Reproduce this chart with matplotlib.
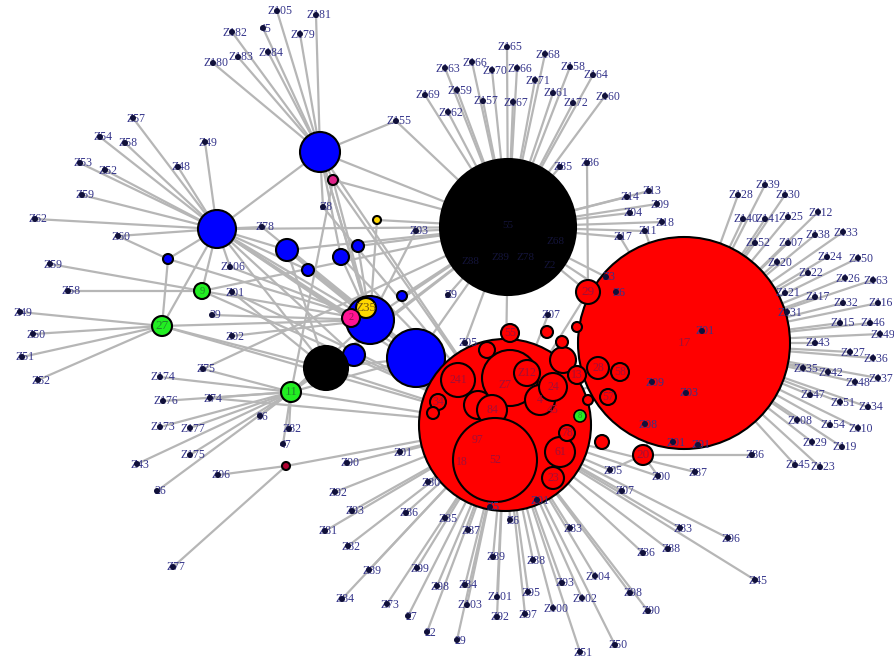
import matplotlib
matplotlib.use("Agg")
import matplotlib.pyplot as plt
from matplotlib.patches import Circle

# layout is in pixel units of an 895 x 660 canvas (y grows downwards)

# hub nodes: name, x, y, radius, fill, label   (listed in drawing order)
hubs = [
    ("B5", 416, 358, 29, "#0000ff", ""),
    ("R17", 684, 343, 106, "#ff0000", "17"),
    ("R", 505, 425, 86, "#ff0000", ""),
    ("K", 508, 227, 68, "#000000", ""),
    ("B1", 320, 152, 20, "#0000ff", ""),
    ("B2", 217, 229, 19, "#0000ff", ""),
    ("B3", 287, 250, 11, "#0000ff", ""),
    ("B4", 370, 320, 24, "#0000ff", ""),
    ("B6", 354, 355, 11, "#0000ff", ""),
    ("b7", 341, 257, 8, "#0000ff", ""),
    ("b8", 358, 246, 6, "#0000ff", ""),
    ("b9", 308, 270, 6, "#0000ff", ""),
    ("b10", 168, 259, 5, "#0000ff", ""),
    ("b11", 402, 296, 5, "#0000ff", ""),
    ("K2", 326, 368, 22, "#000000", ""),
    ("G27", 162, 326, 10, "#22ee22", "27"),
    ("G9", 202, 291, 8, "#22ee22", "9"),
    ("G11", 291, 392, 10, "#22ee22", "11"),
    ("Y35", 366, 308, 10, "#ffd700", "Z35"),
    ("M2", 351, 318, 9, "#ff1493", "2"),
    ("m1", 333, 180, 5, "#dd2288", ""),
    ("y1", 377, 220, 4, "#ffd700", ""),
    ("dr", 286, 466, 4, "#b00030", ""),
    ("R29", 588, 292, 12, "#ff0000", "29"),
    ("R20", 643, 455, 10, "#ff0000", "20"),
]

# circles packed inside the large red component
inner_red = [
    (478, 405, 14, ""), (458, 380, 17, "241"), (510, 378, 28, ""),
    (540, 400, 15, "4"), (527, 373, 13, "Z12"), (553, 387, 14, "24"),
    (563, 360, 13, ""), (492, 410, 15, "84"), (495, 460, 42, "52"),
    (560, 452, 15, "61"), (553, 478, 11, "23"), (567, 433, 8, "78"),
    (577, 375, 9, "13"), (598, 368, 11, "28"), (620, 372, 9, "58"),
    (608, 397, 8, "57"), (510, 333, 9, "55"), (438, 402, 8, "34"),
    (433, 413, 6, ""), (487, 350, 8, ""), (547, 332, 6, ""),
    (562, 342, 6, ""), (577, 327, 5, ""), (588, 400, 5, ""),
    (602, 442, 7, ""),
]
inner_text = [("18", 462, 462), ("97", 478, 440), ("45", 553, 410), ("Z7", 505, 385)]
green_small = (580, 416, 6, "8")

# faint names printed over the black hub
black_text = [("55", 508, 225), ("Z68", 555, 242), ("Z88", 470, 262), ("Z89", 500, 258),
              ("Z78", 525, 258), ("Z2", 550, 265)]

# leaves grouped by the hub they hang from
leaves_K = [
    ("Z165", 507, 47), ("Z168", 545, 54), ("Z163", 445, 68), ("Z166", 472, 62),
    ("Z170", 492, 70), ("Z166", 517, 68), ("Z158", 570, 67), ("Z164", 593, 75),
    ("Z171", 535, 80), ("Z169", 425, 95), ("Z159", 457, 90), ("Z161", 553, 93),
    ("Z172", 573, 103), ("Z160", 605, 96), ("Z157", 483, 101), ("Z167", 513, 102),
    ("Z162", 448, 112), ("Z85", 560, 167), ("Z14", 627, 197), ("Z13", 649, 191),
    ("Z09", 657, 204), ("Z04", 630, 213), ("Z18", 662, 222), ("Z17", 620, 237),
    ("Z11", 645, 231), ("Z03", 416, 231), ("Z9", 448, 295),
]
leaves_B1 = [
    ("Z105", 277, 11), ("Z181", 316, 15), ("Z182", 232, 32), ("45", 263, 28),
    ("Z179", 300, 34), ("Z183", 238, 57), ("Z184", 268, 52), ("Z180", 213, 63),
    ("Z155", 396, 121), ("Z8", 323, 207),
]
leaves_B2 = [
    ("Z57", 133, 118), ("Z54", 100, 137), ("Z58", 125, 143), ("Z49", 205, 142),
    ("Z53", 80, 163), ("Z52", 105, 170), ("Z48", 178, 167), ("Z59", 82, 195),
    ("Z62", 35, 219), ("Z60", 118, 236), ("Z78", 262, 227), ("Z106", 230, 267),
]
leaves_G9 = [("Z59", 50, 264), ("Z58", 68, 291)]
leaves_G27 = [("Z49", 20, 312), ("Z50", 33, 334), ("Z51", 22, 357), ("Z52", 38, 380)]
leaves_G11 = [
    ("Z75", 203, 369), ("Z174", 160, 377), ("Z176", 163, 401), ("Z74", 210, 398),
    ("Z173", 160, 427), ("Z177", 190, 428), ("Z175", 190, 455), ("Z43", 137, 464),
    ("26", 157, 491), ("96", 260, 416), ("Z82", 289, 429), ("47", 283, 444),
]
leaves_dr = [("Z06", 218, 475), ("Z77", 173, 567)]
leaves_K2 = [("Z01", 232, 292)]
leaves_B4 = [("39", 212, 315), ("Z02", 232, 336)]
leaves_R = [
    ("Z90", 347, 463), ("Z01", 400, 452), ("Z92", 335, 492), ("Z93", 352, 511),
    ("Z81", 325, 531), ("Z82", 348, 546), ("Z89", 369, 570), ("Z84", 342, 599),
    ("Z99", 417, 568), ("Z98", 437, 586), ("Z73", 387, 604), ("27", 408, 616),
    ("22", 427, 632), ("29", 457, 640), ("Z84", 465, 585), ("Z103", 467, 605),
    ("Z89", 493, 557), ("Z101", 497, 597), ("Z92", 497, 617), ("Z88", 533, 560),
    ("Z95", 528, 592), ("Z97", 525, 614), ("Z100", 553, 608), ("Z93", 562, 583),
    ("Z102", 582, 598), ("Z83", 570, 528), ("Z51", 580, 652), ("Z87", 468, 530),
    ("Z85", 445, 518), ("Z86", 406, 513), ("Z80", 428, 482),
    ("Z05", 610, 470), ("Z00", 658, 476), ("Z87", 695, 472), ("Z07", 622, 491),
    ("Z83", 680, 528), ("Z96", 728, 538), ("Z36", 643, 553), ("Z88", 668, 549),
    ("Z45", 755, 580), ("Z104", 595, 576), ("Z98", 630, 593), ("Z90", 648, 611),
    ("Z50", 615, 645), ("Z05", 465, 343), ("Z07", 548, 315),
    ("Z5", 490, 507), ("Z6", 510, 520), ("Z01", 537, 500),
]
leaves_R17 = [
    ("Z128", 738, 195), ("Z139", 765, 185), ("Z130", 785, 195), ("Z140", 743, 219),
    ("Z141", 765, 219), ("Z125", 788, 217), ("Z112", 818, 212), ("Z152", 755, 243),
    ("Z107", 788, 243), ("Z138", 815, 235), ("Z133", 843, 232), ("Z120", 777, 262),
    ("Z124", 827, 257), ("Z150", 858, 258), ("Z122", 808, 273), ("Z126", 845, 278),
    ("Z163", 873, 280), ("Z121", 785, 293), ("Z117", 815, 297), ("Z132", 843, 303),
    ("Z116", 878, 303), ("Z131", 787, 312), ("Z115", 840, 323), ("Z146", 870, 323),
    ("Z149", 880, 334), ("Z143", 815, 343), ("Z127", 850, 352), ("Z136", 873, 358),
    ("Z135", 803, 368), ("Z142", 828, 372), ("Z148", 855, 382), ("Z137", 878, 378),
    ("Z147", 810, 395), ("Z151", 840, 402), ("Z134", 868, 407), ("Z108", 797, 420),
    ("Z154", 830, 425), ("Z110", 858, 428), ("Z129", 812, 442), ("Z119", 842, 447),
    ("Z145", 795, 465), ("Z123", 820, 467),
    ("Z01", 702, 331), ("Z09", 652, 382), ("Z03", 686, 393), ("Z08", 645, 424),
    ("Z01", 673, 442), ("Z91", 698, 445), ("Z3", 606, 277), ("Z6", 616, 292),
]
leaves_R29 = [("Z86", 587, 163)]
leaves_R20 = [("Z86", 752, 455)]

leaf_groups = {
    "K": leaves_K, "B1": leaves_B1, "B2": leaves_B2, "G9": leaves_G9,
    "G27": leaves_G27, "G11": leaves_G11, "dr": leaves_dr, "K2": leaves_K2,
    "B4": leaves_B4, "R": leaves_R, "R17": leaves_R17, "R29": leaves_R29,
    "R20": leaves_R20,
}

# links between hubs, plus a few second links of leaves
hub_links = [
    ("B1", "B2"), ("B1", "K"), ("B1", "m1"), ("B1", "b7"), ("B1", "B4"),
    ("B1", "Y35"), ("B1", "R"), ("B2", "B3"), ("B2", "B4"), ("B2", "G27"),
    ("B2", "G9"), ("B2", "b10"), ("B2", "R"), ("B2", "K"), ("B2", "K2"),
    ("B2", "B5"), ("G27", "B4"), ("G27", "K2"), ("G27", "R"), ("G27", "b10"),
    ("G9", "B4"), ("G9", "R"), ("G11", "B4"), ("G11", "B5"), ("G11", "R"),
    ("G11", "K2"), ("G11", "K"), ("K2", "R"), ("K2", "K"), ("K2", "B3"),
    ("B4", "K"), ("B4", "R"), ("B5", "R"), ("B5", "K"), ("B3", "B4"),
    ("B3", "R"), ("b7", "B4"), ("b8", "B4"), ("b8", "K"), ("b9", "B2"),
    ("b9", "B4"), ("b11", "K"), ("m1", "B4"), ("m1", "R"), ("m1", "K"),
    ("y1", "B4"), ("y1", "K"), ("K", "R"), ("K", "R17"), ("K", "R29"),
    ("R", "R17"), ("R17", "R20"), ("B6", "R"), ("B6", "B2"), ("M2", "B2"),
    ("dr", "R"), ("K2", "B5"), ("b10", "B4"), ("G9", "K"), ("B3", "K"),
    ("b7", "R"), ("m1", "G11"), ("R29", "R"),
]
extra_links = [
    ("Z155", 396, 121, "K"), ("Z78", 262, 227, "R"), ("Z106", 230, 267, "B4"),
    ("Z8", 323, 207, "R"), ("Z03", 416, 231, "B4"), ("Z01", 232, 292, "R"),
    ("Z05", 465, 343, "K"), ("Z00", 658, 476, "R20"), ("Z05", 610, 470, "R20"),
    ("Z17", 620, 237, "R17"), ("Z11", 645, 231, "R17"), ("Z3", 606, 277, "K"),
    ("Z74", 210, 398, "R"), ("Z75", 203, 369, "K"), ("Z60", 118, 236, "b10"),
]

EDGE = "#b6b6b6"
LEAF_TXT = "#34348a"
LEAF_DOT = "#10103a"

fig = plt.figure(figsize=(8.95, 6.6), dpi=100)
ax = fig.add_axes([0, 0, 1, 1])
ax.set_xlim(0, 895)
ax.set_ylim(660, 0)
ax.axis("off")

hub_pos = {h[0]: (h[1], h[2]) for h in hubs}

# edges first
for hub, group in leaf_groups.items():
    hx, hy = hub_pos[hub]
    for lab, x, y in group:
        ax.plot([x, hx], [y, hy], color=EDGE, lw=1.6, zorder=1, solid_capstyle="round")
for a, b in hub_links:
    (x1, y1), (x2, y2) = hub_pos[a], hub_pos[b]
    ax.plot([x1, x2], [y1, y2], color=EDGE, lw=1.6, zorder=1)
for lab, x, y, hub in extra_links:
    hx, hy = hub_pos[hub]
    ax.plot([x, hx], [y, hy], color=EDGE, lw=1.6, zorder=1)

# hub circles
z = 3
for name, x, y, r, col, lab in hubs:
    ax.add_patch(Circle((x, y), r, facecolor=col, edgecolor="black", lw=1.5, zorder=z))
    z += 0.01
    if name == "R":
        for cx, cy, cr, clab in inner_red:
            ax.add_patch(Circle((cx, cy), cr, facecolor="#ff0000", edgecolor="black",
                                lw=1.5, zorder=z))
            z += 0.01
        gx, gy, gr, glab = green_small
        ax.add_patch(Circle((gx, gy), gr, facecolor="#22ee22", edgecolor="black",
                            lw=1.2, zorder=z))
        z += 0.01

label_col = {"#ff0000": "#a01038", "#22ee22": "#1f8a2a", "#ffd700": "#7a5a10",
             "#ff1493": "#901050", "#0000ff": "#000080", "#000000": "#000040"}
for name, x, y, r, col, lab in hubs:
    if lab:
        ax.text(x, y, lab, ha="center", va="center", fontsize=9.5 if r > 9 else 7.5,
                family="Liberation Serif", color=label_col[col], zorder=6)
for cx, cy, cr, clab in inner_red:
    if clab:
        ax.text(cx, cy, clab, ha="center", va="center", fontsize=8.5,
                family="Liberation Serif", color="#a01038", zorder=6)
for t, x, y in inner_text:
    ax.text(x, y, t, ha="center", va="center", fontsize=8.5,
            family="Liberation Serif", color="#a01038", zorder=6)
for t, x, y in black_text:
    ax.text(x, y, t, ha="center", va="center", fontsize=8,
            family="Liberation Serif", color="#14143a", zorder=6)
ax.text(green_small[0], green_small[1], green_small[3], ha="center", va="center",
        fontsize=6, family="Liberation Serif", color="#1f8a2a", zorder=6)

# leaves: dot with its name over it
for hub, group in leaf_groups.items():
    for lab, x, y in group:
        ax.text(x + 3, y + 0.5, lab, ha="center", va="center", fontsize=8.5,
                family="Liberation Serif", color=LEAF_TXT, zorder=7)
        ax.add_patch(Circle((x, y), 3.0, facecolor=LEAF_DOT, edgecolor="none", zorder=8))

fig.savefig("out.png", dpi=100, facecolor="white")
